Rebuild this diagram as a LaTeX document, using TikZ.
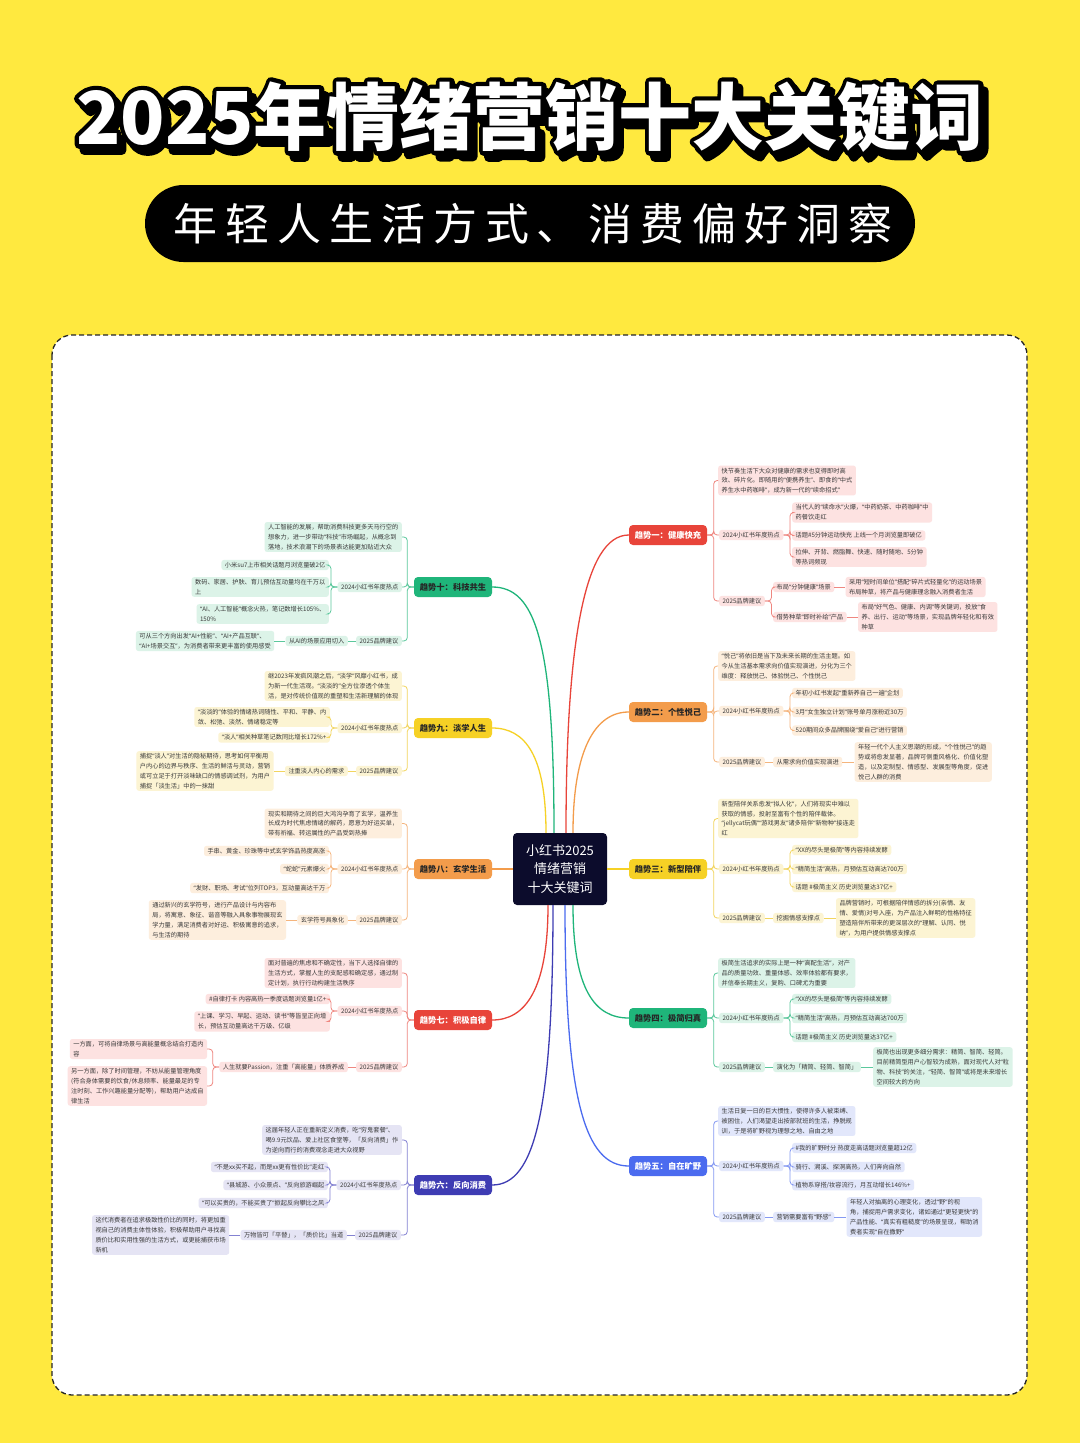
\documentclass[tikz,border=0pt]{standalone}
\usepackage{fontspec}
\setmainfont{Noto Sans CJK SC}
\newfontfamily\qtfont{Noto Sans}
\catcode`\“=\active
\catcode`\”=\active
\protected\def“{{\qtfont\symbol{"201C}}}
\protected\def”{{\qtfont\symbol{"201D}}}
\usetikzlibrary{calc}
\definecolor{bgY}{HTML}{FFE93F}
\definecolor{txt}{HTML}{3A3A3A}
\definecolor{nR}{HTML}{E8443A}\definecolor{fR}{HTML}{FDE2E1}\definecolor{kR}{HTML}{EF8780}
\definecolor{nO}{HTML}{F39C4B}\definecolor{fO}{HTML}{FDEEDD}\definecolor{kO}{HTML}{F5B57D}
\definecolor{nY}{HTML}{F6D125}\definecolor{fY}{HTML}{FCF4D3}\definecolor{kY}{HTML}{F2D55E}
\definecolor{nG}{HTML}{1FB57A}\definecolor{fG}{HTML}{DCF3E8}\definecolor{kG}{HTML}{5BC89C}
\definecolor{nB}{HTML}{4B6BEF}\definecolor{fB}{HTML}{E2E7FB}\definecolor{kB}{HTML}{8599F2}
\definecolor{nI}{HTML}{3E3CB3}\definecolor{fI}{HTML}{E5E4F4}\definecolor{kI}{HTML}{8482D2}
\definecolor{cnode}{HTML}{0C0C2C}
\newcommand\myrlink[3]{\draw[#1,rounded corners=3.5pt] (#2.east) -- ++(6.5,0) |- (#3.west);}
\newcommand\myllink[3]{\draw[#1,rounded corners=3.5pt] (#2.west) -- ++(-6.5,0) |- (#3.east);}
\newcommand\mystrokeon[1]{\special{pdf:literal direct 0 0 0 RG #1 w 1 j 2 Tr}}
\newcommand\mystrokeoff{\special{pdf:literal direct 0 Tr 0.4 w 0 j}}
\tikzset{
  boxbase/.style={font=\fontsize{6.2}{9.8}\selectfont, text=txt, rounded corners=2.5pt, inner xsep=3.5pt, inner ysep=2.2pt, align=left},
  dR/.style={boxbase, fill=fR}, dO/.style={boxbase, fill=fO}, dY/.style={boxbase, fill=fY},
  dG/.style={boxbase, fill=fG}, dB/.style={boxbase, fill=fB}, dI/.style={boxbase, fill=fI},
  lR/.style={draw=kR, line width=0.8pt}, lO/.style={draw=kO, line width=0.8pt}, lY/.style={draw=kY, line width=0.8pt},
  lG/.style={draw=kG, line width=0.8pt}, lB/.style={draw=kB, line width=0.8pt}, lI/.style={draw=kI, line width=0.8pt},
  trendbox/.style={font=\bfseries\fontsize{8.3}{10}\selectfont, rounded corners=4pt, minimum height=20pt, minimum width=78pt, inner xsep=3pt},
  mainc/.style={line width=1.3pt},
  titlestyle/.style={font=\bfseries\fontsize{73}{78}\selectfont, inner sep=0pt},
}
\begin{document}
\begin{tikzpicture}[x=1pt,y=-1pt]
\useasboundingbox (0,0) rectangle (1080,1443);
\fill[bgY] (0,0) rectangle (1080,1443);
% title: shadow, outline, white fill
\def\titletext{2025年情绪营销十大关键词}
\node[titlestyle, text=black] (tshadow) at (535,123) {\mystrokeon{9}\titletext\mystrokeoff};
\node[titlestyle, text=black] (toutline) at (530,117) {\mystrokeon{9}\titletext\mystrokeoff};
\node[titlestyle, text=white] (title) at (530,117) {\titletext};
% subtitle pill
\node[fill=black, rounded corners=38.5pt, minimum width=770pt, minimum height=77pt, inner sep=0pt] (pill) at (530,223.5) {};
\node[text=white, font=\fontsize{44}{50}\selectfont\addfontfeatures{LetterSpace=18}, inner sep=0pt] (subt) at (533,224) {年轻人生活方式、消费偏好洞察};
% panel
\draw[draw=black!85, line width=1.3pt, dash pattern=on 5pt off 3pt, fill=white, rounded corners=20pt] (52,335) rectangle (1027,1395);

% center
\node[fill=cnode, text=white, rounded corners=4pt, minimum width=94pt, minimum height=72pt, align=center, font=\fontsize{13}{18.5}\selectfont] (cn) at (560,869) {小红书2025\\情绪营销\\十大关键词};

% ===== Trend 1 =====
\node[trendbox, fill=nR, text=white] (t1) at (668,535) {趋势一：健康快充};
\node[dR, anchor=west] (d1) at (718,480.5) {快节奏生活下大众对健康的需求也变得即时高\\效、碎片化。即随用的“便携养生”、即食的“中式\\养生水中药咖啡”，成为新一代的“续命招式”};
\node[dR, anchor=west] (h1) at (719,535) {2024小红书年度热点};
\node[dR, anchor=west] (h1a) at (792,512.5) {当代人的“续命水”火爆，“中药奶茶、中药咖啡”中\\药餐饮走红};
\node[dR, anchor=west] (h1b) at (792,535.5) {话题\#5分钟运动快充 上线一个月浏览量即破亿};
\node[dR, anchor=west] (h1c) at (792,557) {拉伸、开背、燃脂舞、快速、随时随地、5分钟\\等热词频现};
\node[dR, anchor=west] (g1) at (719,601) {2025品牌建议};
\node[dR, anchor=west] (g1a) at (773,587) {布局“分钟健康”场景};
\node[dR, anchor=west] (e1a) at ([xshift=11pt]g1a.east) {采用“短时间单位”搭配“碎片式轻量化”的运动场景\\布局种草，将产品与健康理念融入消费者生活};
\node[dR, anchor=west] (g1b) at (773,617) {借势种草“即时补给”产品};
\node[dR, anchor=west] (e1b) at ([xshift=11pt]g1b.east) {布局“好气色、健康、内调”等关键词，投放“食\\养、出行、运动”等场景，实现品牌年轻化和有效\\种草};
\myrlink{lR}{t1}{d1}\myrlink{lR}{t1}{h1}\myrlink{lR}{t1}{g1}
\myrlink{lR}{h1}{h1a}\myrlink{lR}{h1}{h1b}\myrlink{lR}{h1}{h1c}
\myrlink{lR}{g1}{g1a}\myrlink{lR}{g1}{g1b}
\draw[lR] (g1a.east) -- (e1a.west);
\draw[lR] (g1b.east) -- (e1b.west);

% ===== Trend 2 =====
\node[trendbox, fill=nO, text=black!85] (t2) at (668,712) {趋势二：个性悦己};
\node[dO, anchor=west] (d2) at (718,666) {“悦己”将依旧是当下及未来长期的生活主题。如\\今从生活基本需求向价值实现演进，分化为三个\\维度：释放悦己、体验悦己、个性悦己};
\node[dO, anchor=west] (h2) at (719,711) {2024小红书年度热点};
\node[dO, anchor=west] (h2a) at (792,693) {年初小红书发起“重新养自己一遍”企划};
\node[dO, anchor=west] (h2b) at (792,712) {3月“女生独立计划”账号单月涨粉近30万};
\node[dO, anchor=west] (h2c) at (792,730.5) {520期间众多品牌围绕“爱自己”进行营销};
\node[dO, anchor=west] (g2) at (719,762) {2025品牌建议};
\node[dO, anchor=west] (g2a) at (773,762) {从需求向价值实现演进};
\node[dO, anchor=west] (e2a) at ([xshift=12pt]g2a.east) {年轻一代个人主义思潮的形成，“个性悦己”的趋\\势或将愈发显著，品牌可侧重风格化、价值化塑\\造，以及定制型、情感型、发展型等角度，促进\\悦己人群的消费};
\myrlink{lO}{t2}{d2}\myrlink{lO}{t2}{h2}\myrlink{lO}{t2}{g2}
\myrlink{lO}{h2}{h2a}\myrlink{lO}{h2}{h2b}\myrlink{lO}{h2}{h2c}
\draw[lO] (g2.east) -- (g2a.west);
\draw[lO] (g2a.east) -- (e2a.west);

% ===== Trend 3 =====
\node[trendbox, fill=nY, text=black!85] (t3) at (668,869) {趋势三：新型陪伴};
\node[dY, anchor=west] (d3) at (718,818.5) {新型陪伴关系愈发“拟人化”，人们将现实中难以\\获取的情感，投射至富有个性的陪伴载体。\\“jellycat玩偶”“游戏男友”诸多陪伴“新物种”接连走\\红};
\node[dY, anchor=west] (h3) at (719,869) {2024小红书年度热点};
\node[dY, anchor=west] (h3a) at (792,850) {“XX的尽头是极简”等内容持续发酵};
\node[dY, anchor=west] (h3b) at (792,869) {“精简生活”高热，月预估互动高达700万};
\node[dY, anchor=west] (h3c) at (792,887) {话题 \#极简主义 历史浏览量达37亿+};
\node[dY, anchor=west] (g3) at (719,918) {2025品牌建议};
\node[dY, anchor=west] (g3a) at (773,918) {挖掘情感支撑点};
\node[dY, anchor=west] (e3a) at ([xshift=12pt]g3a.east) {品牌营销时，可根据陪伴情感的拆分(亲情、友\\情、爱情)对号入座，为产品注入鲜明的性格特征\\塑造陪伴所带来的更深层次的“理解、认同、悦\\纳”，为用户提供情感支撑点};
\myrlink{lY}{t3}{d3}\myrlink{lY}{t3}{h3}\myrlink{lY}{t3}{g3}
\myrlink{lY}{h3}{h3a}\myrlink{lY}{h3}{h3b}\myrlink{lY}{h3}{h3c}
\draw[lY] (g3.east) -- (g3a.west);
\draw[lY] (g3a.east) -- (e3a.west);

% ===== Trend 4 =====
\node[trendbox, fill=nG, text=black!85] (t4) at (668,1018) {趋势四：极简归真};
\node[dG, anchor=west] (d4) at (718,973) {极简生活追求的实际上是一种“高配生活”，对产\\品的质量功效、重量体感、效率体验都有要求，\\并信奉长期主义，复购、口碑尤为重要};
\node[dG, anchor=west] (h4) at (719,1018) {2024小红书年度热点};
\node[dG, anchor=west] (h4a) at (792,999) {“XX的尽头是极简”等内容持续发酵};
\node[dG, anchor=west] (h4b) at (792,1018) {“精简生活”高热，月预估互动高达700万};
\node[dG, anchor=west] (h4c) at (792,1037) {话题 \#极简主义 历史浏览量达37亿+};
\node[dG, anchor=west] (g4) at (719,1067) {2025品牌建议};
\node[dG, anchor=west] (g4a) at (773,1067) {演化为「精简、轻简、智简」};
\node[dG, anchor=west] (e4a) at ([xshift=12pt]g4a.east) {极简也出现更多细分需求：精简、智简、轻简。\\目前精简型用户心智较为成熟，面对现代人对“粒\\物、科技”的关注，“轻简、智简”或将是未来增长\\空间较大的方向};
\myrlink{lG}{t4}{d4}\myrlink{lG}{t4}{h4}\myrlink{lG}{t4}{g4}
\myrlink{lG}{h4}{h4a}\myrlink{lG}{h4}{h4b}\myrlink{lG}{h4}{h4c}
\draw[lG] (g4.east) -- (g4a.west);
\draw[lG] (g4a.east) -- (e4a.west);

% ===== Trend 5 =====
\node[trendbox, fill=nB, text=white] (t5) at (668,1166) {趋势五：自在旷野};
\node[dB, anchor=west] (d5) at (718,1121) {生活日复一日的巨大惯性，使得许多人被束缚、\\被困住，人们渴望走出按部就班的生活，挣脱规\\训，于是将旷野视为理想之地、自由之地};
\node[dB, anchor=west] (h5) at (719,1166) {2024小红书年度热点};
\node[dB, anchor=west] (h5a) at (792,1148) {\#我的旷野时分 热度走高话题浏览量超12亿};
\node[dB, anchor=west] (h5b) at (792,1167) {骑行、溯溪、探洞高热，人们奔向自然};
\node[dB, anchor=west] (h5c) at (792,1185) {植物系穿搭/妆容流行，月互动增长146\%+};
\node[dB, anchor=west] (g5) at (719,1217) {2025品牌建议};
\node[dB, anchor=west] (g5a) at (773,1217) {营销需要富有“野感”};
\node[dB, anchor=west] (e5a) at ([xshift=12pt]g5a.east) {年轻人对抽离的心理变化，透过“野”的视\\角，捕捉用户需求变化，诸如通过“更轻更快”的\\产品性能、“真实有粗糙度”的场景呈现，帮助消\\费者实现“自在撒野”};
\myrlink{lB}{t5}{d5}\myrlink{lB}{t5}{h5}\myrlink{lB}{t5}{g5}
\myrlink{lB}{h5}{h5a}\myrlink{lB}{h5}{h5b}\myrlink{lB}{h5}{h5c}
\draw[lB] (g5.east) -- (g5a.west);
\draw[lB] (g5a.east) -- (e5a.west);

% ===== Trend 10 =====
\node[trendbox, fill=nG, text=black!85] (t10) at (453,587) {趋势十：科技共生};
\node[dG, anchor=east] (d10) at (402,537) {人工智能的发展，帮助消费科技更多天马行空的\\想象力，进一步带动“科技”市场崛起，从概念到\\落地，技术浪潮下的场景表达能更加贴近大众};
\node[dG, anchor=east] (h10) at (402,587) {2024小红书年度热点};
\node[dG, anchor=east] (h10a) at (329,565) {小米su7上市相关话题月浏览量破2亿};
\node[dG, anchor=east] (h10b) at (329,587) {数码、家居、护肤、育儿预估互动量均在千万以\\上};
\node[dG, anchor=east] (h10c) at (329,614) {“AI、人工智能”概念火热，笔记数增长105\%、\\150\%};
\node[dG, anchor=east] (g10) at (402,641) {2025品牌建议};
\node[dG, anchor=east] (g10a) at (348,641) {从AI的场景应用切入};
\node[dG, anchor=east] (e10a) at ([xshift=-11pt]g10a.west) {可从三个方向出发“AI+性能”、“AI+产品互联”、\\“AI+场景交互”，为消费者带来更丰富的使用感受};
\myllink{lG}{t10}{d10}\myllink{lG}{t10}{h10}\myllink{lG}{t10}{g10}
\myllink{lG}{h10}{h10a}\myllink{lG}{h10}{h10b}\myllink{lG}{h10}{h10c}
\draw[lG] (g10.west) -- (g10a.east);
\draw[lG] (g10a.west) -- (e10a.east);

% ===== Trend 9 =====
\node[trendbox, fill=nY, text=black!85] (t9) at (453,728) {趋势九：淡学人生};
\node[dY, anchor=east] (d9) at (402,686) {继2023年发疯风潮之后，“淡学”风靡小红书，成\\为新一代生活观。“淡淡的”全方位渗透个体生\\活，是对传统价值观的重塑和生活新理解的体现};
\node[dY, anchor=east] (h9) at (402,728) {2024小红书年度热点};
\node[dY, anchor=east] (h9a) at (330,717) {“淡淡的”体验的情绪热词随性、平和、平静、内\\敛、松弛、淡然、情绪稳定等};
\node[dY, anchor=east] (h9b) at (330,737.5) {“淡人”相关种草笔记数同比增长172\%+};
\node[dY, anchor=east] (g9) at (402,771) {2025品牌建议};
\node[dY, anchor=east] (g9a) at (348,771) {注重淡人内心的需求};
\node[dY, anchor=east] (e9a) at ([xshift=-11pt]g9a.west) {捕捉“淡人”对生活的隐秘期待，思考如何平衡用\\户内心的边界与秩序、生活的鲜活与灵动，营销\\或可立足于打开淡味缺口的情感调试剂，为用户\\捕捉「淡生活」中的一抹甜};
\myllink{lY}{t9}{d9}\myllink{lY}{t9}{h9}\myllink{lY}{t9}{g9}
\myllink{lY}{h9}{h9a}\myllink{lY}{h9}{h9b}
\draw[lY] (g9.west) -- (g9a.east);
\draw[lY] (g9a.west) -- (e9a.east);

% ===== Trend 8 =====
\node[trendbox, fill=nO, text=black!85] (t8) at (453,869) {趋势八：玄学生活};
\node[dO, anchor=east] (d8) at (402,823.5) {现实和期待之间的巨大鸿沟孕育了玄学，温养生\\长成为时代焦虑情绪的解药，愿意为好运买单，\\带有祈福、转运属性的产品受到热捧};
\node[dO, anchor=east] (h8) at (402,869) {2024小红书年度热点};
\node[dO, anchor=east] (h8a) at (329,851) {手串、黄金、珍珠等中式玄学饰品热度高涨};
\node[dO, anchor=east] (h8b) at (329,869) {“蛇蛇”元素爆火};
\node[dO, anchor=east] (h8c) at (329,888) {“发财、职场、考试”位列TOP3，互动量高达千万};
\node[dO, anchor=east] (g8) at (402,920) {2025品牌建议};
\node[dO, anchor=east] (g8a) at (348,920) {玄学符号具象化};
\node[dO, anchor=east] (e8a) at ([xshift=-11pt]g8a.west) {通过新兴的玄学符号，进行产品设计与内容布\\局，将寓意、象征、谐音等融入具象事物展现玄\\学力量，满足消费者对好运、积极寓意的追求，\\与生活的期待};
\myllink{lO}{t8}{d8}\myllink{lO}{t8}{h8}\myllink{lO}{t8}{g8}
\myllink{lO}{h8}{h8a}\myllink{lO}{h8}{h8b}\myllink{lO}{h8}{h8c}
\draw[lO] (g8.west) -- (g8a.east);
\draw[lO] (g8a.west) -- (e8a.east);

% ===== Trend 7 =====
\node[trendbox, fill=nR, text=white] (t7) at (453,1020) {趋势七：积极自律};
\node[dR, anchor=east] (d7) at (402,973) {面对普遍的焦虑和不确定性，当下人选择自律的\\生活方式，掌握人生的支配感和确定感，通过制\\定计划，执行行动构建生活秩序};
\node[dR, anchor=east] (h7) at (402,1011) {2024小红书年度热点};
\node[dR, anchor=east] (h7a) at (330,999) {\#自律打卡 内容高热一季度话题浏览量1亿+};
\node[dR, anchor=east] (h7b) at (330,1021.5) {“上课、学习、早起、运动、读书”等皆呈正向增\\长，预估互动量高达千万级、亿级};
\node[dR, anchor=east] (g7) at (402,1067) {2025品牌建议};
\node[dR, anchor=east] (g7a) at (348,1067) {人生就要Passion，注重「高能量」体质养成};
\node[dR, anchor=east] (e7a) at ([xshift=-12pt,yshift=18pt]g7a.west) {一方面，可将自律场景与高能量概念结合打造内\\容};
\node[dR, anchor=east] (e7b) at ([xshift=-12pt,yshift=-19pt]g7a.west) {另一方面，除了时间管理，不妨从能量管理角度\\(符合身体需要的饮食/休息频率、能量最足的专\\注时刻、工作兴趣能量分配等)，帮助用户达成自\\律生活};
\myllink{lR}{t7}{d7}\myllink{lR}{t7}{h7}\myllink{lR}{t7}{g7}
\myllink{lR}{h7}{h7a}\myllink{lR}{h7}{h7b}
\draw[lR] (g7.west) -- (g7a.east);
\myllink{lR}{g7a}{e7a}\myllink{lR}{g7a}{e7b}

% ===== Trend 6 =====
\node[trendbox, fill=nI, text=white] (t6) at (453,1185) {趋势六：反向消费};
\node[dI, anchor=east] (d6) at (402,1140) {这届年轻人正在重新定义消费，吃“穷鬼套餐”、\\喝9.9元饮品、爱上社区食堂等，「反向消费」作\\为逆向而行的消费观念走进大众视野};
\node[dI, anchor=east] (h6) at (401,1185) {2024小红书年度热点};
\node[dI, anchor=east] (h6a) at (328,1167) {“不是xx买不起，而是xx更有性价比”走红};
\node[dI, anchor=east] (h6b) at (328,1185) {“县城游、小众景点、”反向旅游崛起};
\node[dI, anchor=east] (h6c) at (328,1203) {“可以买贵的，不能买贵了”掀起反向攀比之风};
\node[dI, anchor=east] (g6) at (401,1235) {2025品牌建议};
\node[dI, anchor=east] (g6a) at (347,1235) {万物皆可「平替」，「质价比」当道};
\node[dI, anchor=east] (e6a) at ([xshift=-11pt]g6a.west) {这代消费者在追求极致性价比的同时，将更加重\\视自己的消费主体性体验，积极帮助用户寻找高\\质价比和实用性强的生活方式，或更能捕获市场\\新机};
\myllink{lI}{t6}{d6}\myllink{lI}{t6}{h6}\myllink{lI}{t6}{g6}
\myllink{lI}{h6}{h6a}\myllink{lI}{h6}{h6b}\myllink{lI}{h6}{h6c}
\draw[lI] (g6.west) -- (g6a.east);
\draw[lI] (g6a.west) -- (e6a.east);

% ===== center connectors =====
\draw[mainc, draw=nR] ($(cn.north)+(6,0)$) .. controls (566,640) and (585,535) .. (t1.west);
\draw[mainc, draw=nO] ($(cn.north)+(13,0)$) .. controls (573,750) and (595,712) .. (t2.west);
\draw[mainc, draw=nY] (cn.east) -- (t3.west);
\draw[mainc, draw=nG] ($(cn.south)+(13,0)$) .. controls (573,990) and (595,1018) .. (t4.west);
\draw[mainc, draw=nB] ($(cn.south)+(5,0)$) .. controls (565,1100) and (585,1166) .. (t5.west);
\draw[mainc, draw=nG] ($(cn.north)+(-6,0)$) .. controls (554,640) and (535,587) .. (t10.east);
\draw[mainc, draw=nY] ($(cn.north)+(-14,0)$) .. controls (546,755) and (525,728) .. (t9.east);
\draw[mainc, draw=nO] (cn.west) -- (t8.east);
\draw[mainc, draw=nR] ($(cn.south)+(-12,0)$) .. controls (548,990) and (525,1020) .. (t7.east);
\draw[mainc, draw=nI] ($(cn.south)+(-7,0)$) .. controls (553,1110) and (535,1185) .. (t6.east);
\end{tikzpicture}
\end{document}
